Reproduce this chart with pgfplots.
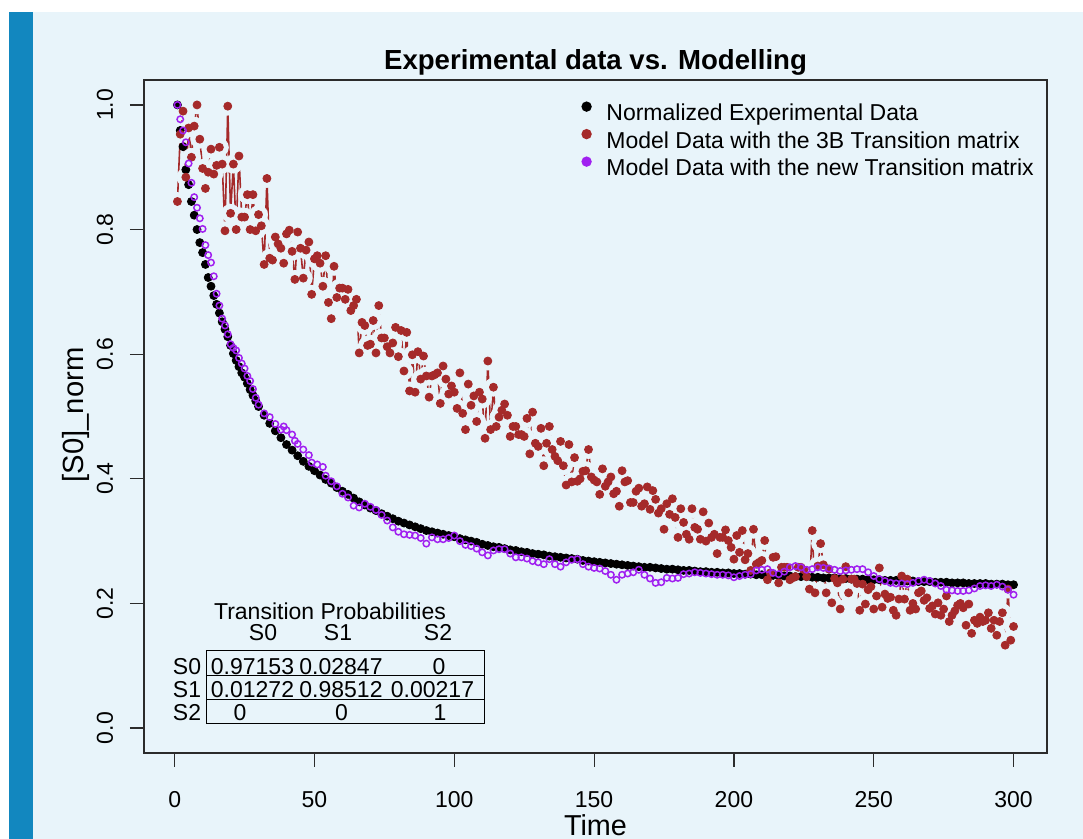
\documentclass[border=0pt]{standalone}
\usepackage{fontspec}
\setmainfont{Liberation Sans}
\usepackage{pgfplots}
\usepackage{pgfplotstable}
\pgfplotsset{compat=1.18}
\definecolor{bgblue}{HTML}{E8F4FA}
\definecolor{barblue}{HTML}{1287BF}
\definecolor{rbrown}{HTML}{A52A2A}
\definecolor{rpurple}{HTML}{A020F0}
\definecolor{framec}{HTML}{2B2B2B}
\newcommand{\px}[2]{({#1*0.5pt},{(839-#2)*0.5pt})}

\pgfplotstableread{
t y
1 1.000
2 0.959
3 0.933
4 0.896
5 0.872
6 0.845
7 0.823
8 0.800
9 0.779
10 0.763
11 0.744
12 0.723
13 0.709
14 0.694
15 0.680
16 0.666
17 0.652
18 0.640
19 0.628
20 0.614
21 0.601
22 0.590
23 0.580
24 0.570
25 0.563
26 0.553
27 0.543
28 0.534
29 0.525
30 0.516
32 0.502
34 0.489
36 0.477
38 0.466
40 0.455
42 0.446
44 0.437
46 0.428
48 0.420
50 0.413
52 0.406
54 0.399
56 0.393
58 0.386
60 0.380
62 0.375
64 0.369
66 0.363
68 0.358
70 0.353
72 0.349
74 0.344
76 0.340
78 0.336
80 0.332
82 0.329
84 0.326
86 0.323
88 0.320
90 0.317
92 0.315
94 0.313
96 0.311
98 0.309
100 0.307
102 0.304
104 0.302
106 0.300
108 0.298
110 0.295
112 0.293
114 0.291
116 0.290
118 0.288
120 0.286
122 0.285
124 0.283
126 0.282
128 0.280
130 0.279
132 0.278
134 0.276
136 0.275
138 0.274
140 0.273
142 0.272
144 0.271
146 0.269
148 0.268
150 0.267
152 0.266
154 0.265
156 0.264
158 0.263
160 0.262
162 0.261
164 0.260
166 0.259
168 0.258
170 0.258
172 0.257
174 0.256
176 0.255
178 0.255
180 0.254
182 0.253
184 0.253
186 0.252
188 0.251
190 0.251
192 0.250
194 0.250
196 0.249
198 0.249
200 0.248
202 0.248
204 0.247
206 0.247
208 0.246
210 0.246
212 0.245
214 0.245
216 0.245
218 0.244
220 0.244
222 0.243
224 0.243
226 0.243
228 0.242
230 0.242
232 0.241
234 0.241
236 0.241
238 0.240
240 0.240
242 0.239
244 0.239
246 0.239
248 0.238
250 0.238
252 0.238
254 0.237
256 0.237
258 0.237
260 0.236
262 0.236
264 0.236
266 0.235
268 0.235
270 0.235
272 0.234
274 0.234
276 0.234
278 0.233
280 0.233
282 0.233
284 0.232
286 0.232
288 0.232
290 0.232
292 0.231
294 0.231
296 0.231
298 0.230
300 0.230
}\expdata

\pgfplotstableread{
t y
1 0.845
2 0.953
3 0.990
4 0.884
5 0.963
6 0.916
7 0.966
8 1.000
9 0.945
10 0.898
11 0.866
12 0.892
13 0.929
14 0.889
15 0.903
16 0.932
17 0.905
18 0.798
19 0.998
20 0.826
21 0.905
22 0.800
23 0.918
24 0.820
25 0.820
26 0.856
27 0.800
28 0.856
29 0.798
30 0.824
31 0.806
32 0.744
33 0.882
34 0.754
35 0.751
36 0.788
37 0.777
38 0.770
39 0.746
40 0.793
41 0.799
42 0.765
43 0.720
44 0.796
45 0.770
46 0.722
47 0.767
48 0.780
49 0.696
50 0.753
51 0.758
52 0.746
53 0.709
54 0.758
55 0.683
56 0.657
57 0.741
58 0.691
59 0.706
60 0.706
61 0.688
62 0.704
63 0.670
64 0.678
65 0.688
66 0.602
67 0.651
68 0.646
69 0.614
70 0.616
71 0.654
72 0.602
73 0.678
74 0.626
75 0.626
76 0.612
77 0.602
78 0.618
79 0.643
80 0.596
81 0.638
82 0.573
83 0.635
84 0.541
85 0.599
86 0.539
87 0.604
88 0.560
89 0.597
90 0.565
91 0.531
92 0.565
93 0.567
94 0.570
95 0.521
96 0.581
97 0.560
98 0.536
99 0.549
100 0.539
101 0.513
102 0.570
103 0.505
104 0.479
105 0.552
106 0.518
107 0.533
108 0.492
109 0.539
110 0.528
111 0.465
112 0.589
113 0.479
114 0.547
115 0.484
116 0.499
117 0.510
118 0.520
119 0.502
120 0.468
121 0.484
122 0.484
123 0.471
124 0.471
125 0.468
126 0.497
127 0.440
128 0.507
129 0.457
130 0.452
131 0.481
132 0.421
133 0.457
134 0.484
135 0.447
136 0.436
137 0.429
138 0.460
139 0.421
140 0.390
141 0.455
142 0.395
143 0.434
144 0.396
145 0.400
146 0.412
147 0.413
148 0.447
149 0.403
150 0.398
151 0.395
152 0.375
153 0.416
154 0.388
155 0.395
156 0.403
157 0.376
158 0.380
159 0.356
160 0.413
161 0.395
162 0.397
163 0.362
164 0.362
165 0.380
166 0.385
167 0.356
168 0.360
169 0.387
170 0.351
171 0.381
172 0.367
173 0.345
174 0.352
175 0.319
176 0.360
177 0.343
178 0.368
179 0.338
180 0.306
181 0.352
182 0.330
183 0.311
184 0.303
185 0.352
186 0.322
187 0.319
188 0.303
189 0.347
190 0.300
191 0.329
192 0.306
193 0.311
194 0.280
195 0.306
196 0.306
197 0.318
198 0.301
199 0.290
200 0.271
201 0.309
202 0.282
203 0.317
204 0.270
205 0.280
206 0.253
207 0.319
208 0.263
209 0.266
210 0.269
211 0.301
212 0.238
213 0.249
214 0.274
215 0.275
216 0.233
217 0.258
218 0.258
219 0.258
220 0.238
221 0.241
222 0.243
223 0.258
224 0.258
225 0.254
226 0.243
227 0.223
228 0.317
229 0.217
230 0.260
231 0.296
232 0.262
233 0.217
234 0.255
235 0.201
236 0.240
237 0.233
238 0.191
239 0.239
240 0.259
241 0.217
242 0.239
243 0.239
244 0.232
245 0.189
246 0.231
247 0.199
248 0.222
249 0.227
250 0.191
251 0.212
252 0.257
253 0.194
254 0.215
255 0.208
256 0.210
257 0.189
258 0.181
259 0.207
260 0.244
261 0.207
262 0.239
263 0.189
264 0.200
265 0.191
266 0.217
267 0.220
268 0.205
269 0.209
270 0.192
271 0.196
272 0.183
273 0.201
274 0.181
275 0.191
276 0.212
277 0.171
278 0.181
279 0.188
280 0.197
281 0.200
282 0.193
283 0.165
284 0.199
285 0.152
286 0.173
287 0.168
288 0.178
289 0.171
290 0.173
291 0.185
292 0.160
293 0.173
294 0.149
295 0.171
296 0.185
297 0.133
298 0.223
299 0.141
300 0.163
}\reddata

\pgfplotstableread{
t y
1 1.000
2 0.977
3 0.959
4 0.940
5 0.906
6 0.875
7 0.852
8 0.835
9 0.818
10 0.801
11 0.775
12 0.759
13 0.747
14 0.725
15 0.697
16 0.678
17 0.657
18 0.646
19 0.632
20 0.616
21 0.610
22 0.606
23 0.594
24 0.585
25 0.577
26 0.565
27 0.557
28 0.544
29 0.530
30 0.519
32 0.505
34 0.499
36 0.488
38 0.479
39 0.484
40 0.478
42 0.471
43 0.461
44 0.456
46 0.447
48 0.438
49 0.426
51 0.423
53 0.419
54 0.405
56 0.396
58 0.388
60 0.376
62 0.370
64 0.357
66 0.354
68 0.360
70 0.355
72 0.350
74 0.342
76 0.333
78 0.322
80 0.315
82 0.311
84 0.310
86 0.309
88 0.305
90 0.296
92 0.306
94 0.303
96 0.303
98 0.305
100 0.309
102 0.300
104 0.294
106 0.292
108 0.288
110 0.282
112 0.277
114 0.285
116 0.287
118 0.287
120 0.280
122 0.274
124 0.274
126 0.272
128 0.268
130 0.266
132 0.263
134 0.271
136 0.263
138 0.259
140 0.266
142 0.270
144 0.271
146 0.263
148 0.259
150 0.257
152 0.256
154 0.252
156 0.246
158 0.238
160 0.246
162 0.248
164 0.250
166 0.254
168 0.246
170 0.240
172 0.233
174 0.234
176 0.241
178 0.240
180 0.241
182 0.247
184 0.248
186 0.250
188 0.249
190 0.248
192 0.247
194 0.246
196 0.246
198 0.245
200 0.242
202 0.244
204 0.246
206 0.247
208 0.253
210 0.254
212 0.255
214 0.249
216 0.247
218 0.251
220 0.258
222 0.260
224 0.258
226 0.254
228 0.255
230 0.258
232 0.257
234 0.256
236 0.254
238 0.252
240 0.253
242 0.254
244 0.255
246 0.255
248 0.250
250 0.244
252 0.239
254 0.236
256 0.233
258 0.232
260 0.232
262 0.231
264 0.233
266 0.236
268 0.238
270 0.236
272 0.232
274 0.228
276 0.222
278 0.221
280 0.220
282 0.220
284 0.221
286 0.224
288 0.228
290 0.229
292 0.228
294 0.230
296 0.227
298 0.222
300 0.214
}\purpledata

\begin{document}
\begin{tikzpicture}
\fill[white] (0,0) rectangle (541.5pt,419.5pt);
\fill[barblue] \px{9}{839} rectangle \px{33}{12};
\fill[bgblue] \px{33}{839} rectangle \px{1083}{12};

\begin{axis}[
  at={(72pt,43pt)}, anchor=south west,
  scale only axis, width=451.5pt, height=336.5pt,
  xmin=-10.96, xmax=311.96, ymin=-0.04, ymax=1.04,
  axis line style={framec, line width=0.8pt},
  xtick={0,50,100,150,200,250,300},
  ytick={0,0.2,0.4,0.6,0.8,1},
  yticklabels={0.0,0.2,0.4,0.6,0.8,1.0},
  xtick pos=lower, ytick pos=left,
  tick align=outside, major tick length=7pt,
  tick style={framec, line width=0.6pt},
  /pgf/number format/assume math mode=true,
  xticklabel style={font=\fontsize{11.5}{13}\selectfont, inner sep=0pt, anchor=base, yshift=-20.5pt},
  yticklabel style={font=\fontsize{11.5}{13}\selectfont, xshift=-8.5pt, rotate=90, anchor=base},
  legend style={at={(0.4773,0.9747)}, anchor=north west, draw=none, fill=none,
    font=\fontsize{11.5}{13}\selectfont, row sep=1.8pt, column sep=7.3pt,
    nodes={inner sep=0pt, text height=8.3pt, text depth=2.4pt}},
  legend cell align=left,
  legend image code/.code={\fill[#1] (2.6pt,4pt) circle (2.6pt);},
  clip=true,
]
\addplot[rbrown, line width=0.8pt, forget plot] table[x=t,y=y] {\reddata};
\addplot[bgblue, only marks, mark=*, mark size=4.5pt, mark options={fill=bgblue, draw=bgblue}, forget plot] table[x=t,y=y] {\reddata};
\addplot[black, only marks, mark=*, mark size=2pt, mark options={fill=black, draw=black}, forget plot] table[x=t,y=y] {\expdata};
\addplot[rbrown, only marks, mark=*, mark size=2pt, mark options={fill=rbrown, draw=rbrown}, forget plot] table[x=t,y=y] {\reddata};
\addplot[rpurple, only marks, mark=o, mark size=1.6pt, mark options={draw=rpurple, line width=0.75pt}, forget plot] table[x=t,y=y] {\purpledata};
\addlegendimage{fill=black, draw=none}
\addlegendentry{Normalized Experimental Data}
\addlegendimage{fill=rbrown, draw=none}
\addlegendentry{Model Data with the 3B Transition matrix}
\addlegendimage{fill=rpurple, draw=none}
\addlegendentry{Model Data with the new Transition matrix}
\end{axis}

\node[font=\fontsize{13.8}{16}\selectfont\bfseries, anchor=base] at \px{595.5}{70} {Experimental data vs. Modelling};
\node[font=\fontsize{14.4}{17}\selectfont, anchor=base, inner sep=0pt] at \px{595.5}{835.5} {Time};
\node[font=\fontsize{14.6}{17}\selectfont, rotate=90, anchor=base] at \px{83}{415} {[S0]\_norm};

\begin{scope}[font=\fontsize{11.5}{13}\selectfont]
\draw[black, line width=0.5pt] \px{206}{651} rectangle \px{484}{724};
\draw[black, line width=0.5pt] \px{206}{676} -- \px{484}{676};
\draw[black, line width=0.5pt] \px{206}{700} -- \px{484}{700};
\node[anchor=base] at \px{330}{620} {Transition Probabilities};
\node[anchor=base] at \px{263}{641} {S0};
\node[anchor=base] at \px{338}{641} {S1};
\node[anchor=base] at \px{438}{641} {S2};
\node[anchor=base] at \px{187}{674.5} {S0};
\node[anchor=base] at \px{187}{697.5} {S1};
\node[anchor=base] at \px{187}{721} {S2};
\node[anchor=base] at \px{252.5}{674.5} {0.97153};
\node[anchor=base] at \px{341}{674.5} {0.02847};
\node[anchor=base] at \px{439}{674.5} {0};
\node[anchor=base] at \px{252.5}{697.5} {0.01272};
\node[anchor=base] at \px{341}{697.5} {0.98512};
\node[anchor=base] at \px{432.5}{697.5} {0.00217};
\node[anchor=base] at \px{240}{721} {0};
\node[anchor=base] at \px{341.5}{721} {0};
\node[anchor=base] at \px{440}{721} {1};
\end{scope}
\pgfresetboundingbox
\useasboundingbox (0,0) rectangle (541.5pt,419.5pt);
\end{tikzpicture}
\end{document}
